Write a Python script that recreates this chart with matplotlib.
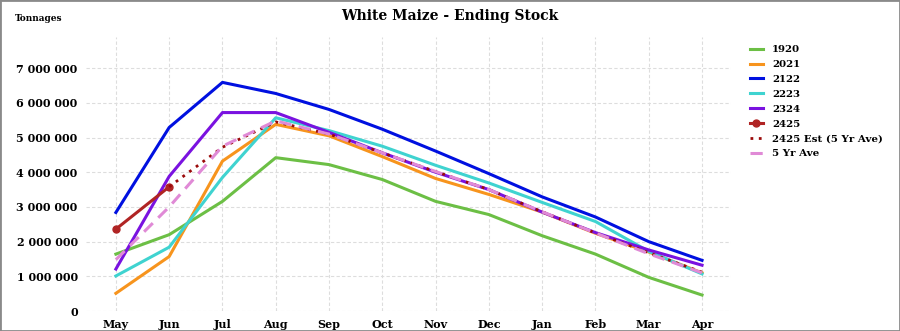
import numpy as np
import matplotlib.pyplot as plt
from matplotlib.patches import Rectangle

# White Maize - Ending Stock (tonnes per month of marketing year)
months = ["May", "Jun", "Jul", "Aug", "Sep", "Oct", "Nov", "Dec", "Jan", "Feb", "Mar", "Apr"]

s1920 = [1640000, 2200000, 3160000, 4420000, 4220000, 3790000, 3160000, 2780000, 2170000, 1640000, 970000, 460000]
s2021 = [510000, 1570000, 4320000, 5380000, 5050000, 4450000, 3820000, 3360000, 2850000, 2240000, 1700000, 1100000]
s2122 = [2840000, 5290000, 6590000, 6270000, 5810000, 5240000, 4610000, 3960000, 3290000, 2710000, 2000000, 1460000]
s2223 = [1010000, 1840000, 3850000, 5570000, 5200000, 4750000, 4200000, 3690000, 3130000, 2580000, 1720000, 1070000]
s2324 = [1210000, 3880000, 5720000, 5720000, 5150000, 4560000, 4000000, 3500000, 2850000, 2260000, 1760000, 1320000]
s2425 = [2360000, 3580000]
s2425_est = [None, 3580000, 4720000, 5450000, 5100000, 4560000, 4020000, 3500000, 2860000, 2250000, 1680000, 1120000]
s5yr = [1480000, 3000000, 4750000, 5480000, 5100000, 4560000, 4020000, 3500000, 2860000, 2250000, 1650000, 1100000]

x = np.arange(len(months))
serif = "DejaVu Serif"

fig = plt.figure(figsize=(9, 3.31), dpi=100)
ax = fig.add_axes([0.0956, 0.0604, 0.717, 0.828])

lw = 2.2
ax.plot(x, s1920, color="#6cbf45", lw=lw, label="1920")
ax.plot(x, s2021, color="#f7941d", lw=lw, label="2021")
ax.plot(x, s2122, color="#0010e0", lw=lw, label="2122")
ax.plot(x, s2223, color="#3fd3d0", lw=lw, label="2223")
ax.plot(x, s2324, color="#7a12e0", lw=lw, label="2324")
ax.plot(x[:len(s2425)], s2425, color="#b02424", lw=lw, marker="o", ms=5, label="2425")
est = np.array([np.nan if v is None else v for v in s2425_est], dtype=float)
ax.plot(x, est, color="#9b0a0a", lw=2, ls=(0, (1, 2)), label="2425 Est (5 Yr Ave)")
ax.plot(x, s5yr, color="#e08ad6", lw=2.2, ls=(0, (4, 2.5)), label="5 Yr Ave")

ax.set_xlim(-0.56, 11.55)
ax.set_ylim(0, 7900000)
ax.set_yticks(np.arange(0, 7000001, 1000000))
ax.set_yticklabels([f"{v:,}".replace(",", " ") for v in range(0, 7000001, 1000000)])
ax.set_xticks(x)
ax.set_xticklabels(months)
for lab in ax.get_xticklabels() + ax.get_yticklabels():
    lab.set_fontfamily(serif)
    lab.set_fontweight("bold")
    lab.set_fontsize(8)
ax.tick_params(length=0, pad=6)
ax.grid(True, color="#dddddd", ls=(0, (3, 2)), lw=0.8)
for sp in ax.spines.values():
    sp.set_visible(False)

fig.text(0.5, 0.952, "White Maize - Ending Stock", ha="center", va="center",
         family=serif, weight="bold", fontsize=10)
fig.text(0.016, 0.943, "Tonnages", ha="left", va="center", family=serif, weight="bold", fontsize=6.5)

leg = ax.legend(loc="upper left", bbox_to_anchor=(1.022, 0.985), frameon=False,
                prop={"family": serif, "weight": "bold", "size": 7.4},
                handlelength=1.3, handletextpad=0.9, labelspacing=0.55, borderaxespad=0)

fig.patches.append(Rectangle((0, 0), 1, 1, transform=fig.transFigure, fill=False,
                             edgecolor="#8a8a8a", lw=2))
fig.savefig("out.png", dpi=100)
